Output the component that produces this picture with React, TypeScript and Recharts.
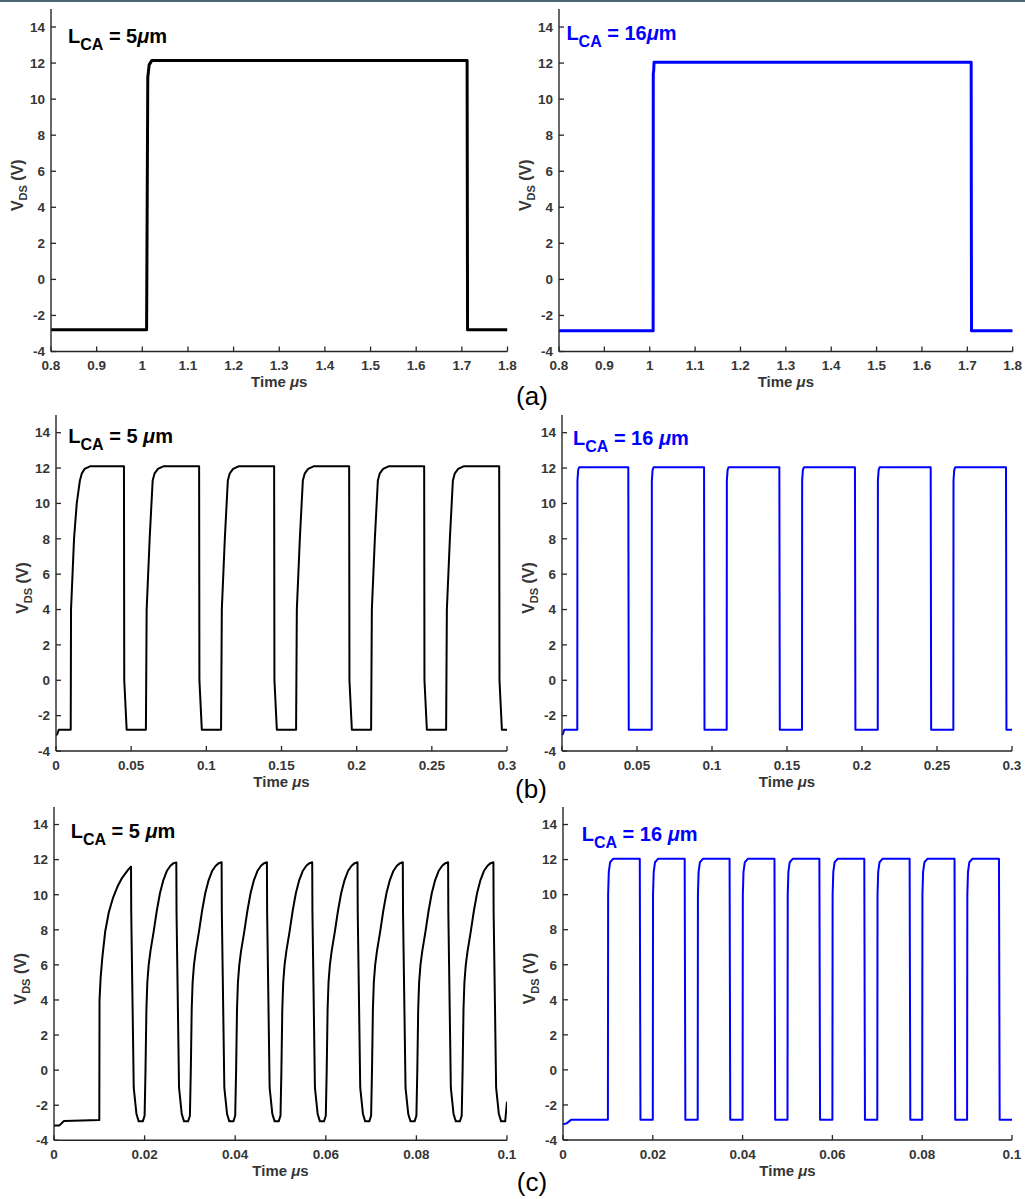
import React from 'react';
import { LineChart, Line, XAxis, YAxis, Label, Customized } from 'recharts';

type Pt = [number, number];

// ---- tick values ----
const Y_TICKS = [-4, -2, 0, 2, 4, 6, 8, 10, 12, 14];
const X_TICKS_A = [0.8, 0.9, 1, 1.1, 1.2, 1.3, 1.4, 1.5, 1.6, 1.7, 1.8];
const X_TICKS_B = [0, 0.05, 0.1, 0.15, 0.2, 0.25, 0.3];
const X_TICKS_C = [0, 0.02, 0.04, 0.06, 0.08, 0.1];

// ---- (a) single pulse, time in µs, V_DS in volts ----
const vdsA5: Pt[] = [
  [0.8, -2.8], [1.0094, -2.8], [1.012, 11.2], [1.015, 11.9], [1.021, 12.15],
  [1.7115, 12.15], [1.7125, -2.8], [1.8, -2.8],
];
const vdsA16: Pt[] = [
  [0.8, -2.85], [1.0075, -2.85], [1.0078, 11.4], [1.0088, 11.6], [1.0095, 12.05],
  [1.7085, 12.05], [1.7092, -2.85], [1.8, -2.85],
];

// ---- (b) 20 MHz pulse train ----
const vdsB5: Pt[] = [
  [0, -3.1], [0.0008, -3.05], [0.0018, -2.8], [0.0098, -2.8],
  [0.01, 4.0], [0.011, 6.0], [0.012, 8.0], [0.0138, 10.0], [0.0159, 11.3], [0.0172, 11.7], [0.019, 11.95], [0.0226, 12.1],
  [0.0452, 12.1], [0.0454, 0], [0.047, -2.8], [0.0598, -2.8],
  [0.0603, 4.0], [0.0623, 8.0], [0.0643, 11.3], [0.0656, 11.7], [0.0678, 11.95], [0.0714, 12.1],
  [0.0952, 12.1], [0.0954, 0], [0.097, -2.8], [0.1098, -2.8],
  [0.1103, 4.0], [0.1123, 8.0], [0.1143, 11.3], [0.1156, 11.7], [0.1178, 11.95], [0.1214, 12.1],
  [0.1451, 12.1], [0.1453, 0], [0.1469, -2.8], [0.1597, -2.8],
  [0.1602, 4.0], [0.1622, 8.0], [0.1642, 11.3], [0.1655, 11.7], [0.1677, 11.95], [0.1713, 12.1],
  [0.195, 12.1], [0.1952, 0], [0.1968, -2.8], [0.2096, -2.8],
  [0.2101, 4.0], [0.2121, 8.0], [0.2141, 11.3], [0.2154, 11.7], [0.2176, 11.95], [0.2212, 12.1],
  [0.2449, 12.1], [0.2451, 0], [0.2467, -2.8], [0.2595, -2.8],
  [0.26, 4.0], [0.262, 8.0], [0.264, 11.3], [0.2653, 11.7], [0.2675, 11.95], [0.2711, 12.1],
  [0.2948, 12.1], [0.295, 0], [0.2966, -2.8], [0.3, -2.8],
];
const vdsB16: Pt[] = [
  [0, -3.1], [0.0008, -3.0], [0.0015, -2.8], [0.0102, -2.8],
  [0.0103, 11.3], [0.0108, 11.9], [0.0115, 12.05], [0.0442, 12.05], [0.0445, -2.8], [0.0598, -2.8],
  [0.0599, 11.3], [0.0604, 11.9], [0.0611, 12.05], [0.0947, 12.05], [0.095, -2.8], [0.1098, -2.8],
  [0.1099, 11.3], [0.1104, 11.9], [0.1111, 12.05], [0.1449, 12.05], [0.1452, -2.8], [0.16, -2.8],
  [0.1601, 11.3], [0.1606, 11.9], [0.1613, 12.05], [0.1953, 12.05], [0.1956, -2.8], [0.2105, -2.8],
  [0.2106, 11.3], [0.2111, 11.9], [0.2118, 12.05], [0.2458, 12.05], [0.2461, -2.8], [0.2609, -2.8],
  [0.261, 11.3], [0.2615, 11.9], [0.2622, 12.05], [0.296, 12.05], [0.2963, -2.8], [0.3, -2.8],
];

// ---- (c) 100 MHz pulse train ----
const vdsC5: Pt[] = [
  [0, -3.15], [0.0012, -3.15], [0.0022, -2.9], [0.01, -2.85],
  [0.01005, 4.0], [0.0103, 5.3], [0.0107, 6.5], [0.0113, 7.9], [0.0121, 9.0], [0.013, 9.8], [0.014, 10.45], [0.015, 10.95], [0.0163, 11.4], [0.017, 11.6],
  [0.01705, 9.0], [0.0176, -1.0], [0.0182, -2.5], [0.0187, -2.92], [0.0196, -2.92],
  [0.02, -2.6], [0.0202, 0], [0.0204, 3.5], [0.0206, 5.0], [0.0209, 6.0], [0.0213, 6.8], [0.022, 7.9], [0.0227, 9.1], [0.0234, 10.1], [0.0241, 10.8], [0.0249, 11.35], [0.0257, 11.65], [0.0264, 11.8], [0.027, 11.84],
  [0.02705, 9.0], [0.0276, -1.0], [0.0282, -2.5], [0.0287, -2.92], [0.0296, -2.92],
  [0.03, -2.6], [0.0302, 0], [0.0304, 3.5], [0.0306, 5.0], [0.0309, 6.0], [0.0313, 6.8], [0.032, 7.9], [0.0327, 9.1], [0.0334, 10.1], [0.0341, 10.8], [0.0349, 11.35], [0.0357, 11.65], [0.0364, 11.8], [0.037, 11.85],
  [0.03705, 9.0], [0.0376, -1.0], [0.0382, -2.5], [0.0387, -2.92], [0.0396, -2.92],
  [0.04, -2.6], [0.0402, 0], [0.0404, 3.5], [0.0406, 5.0], [0.0409, 6.0], [0.0413, 6.8], [0.042, 7.9], [0.0427, 9.1], [0.0434, 10.1], [0.0441, 10.8], [0.0449, 11.35], [0.0457, 11.65], [0.0464, 11.8], [0.047, 11.85],
  [0.04705, 9.0], [0.0476, -1.0], [0.0482, -2.5], [0.0487, -2.92], [0.0496, -2.92],
  [0.05, -2.6], [0.0502, 0], [0.0504, 3.5], [0.0506, 5.0], [0.0509, 6.0], [0.0513, 6.8], [0.052, 7.9], [0.0527, 9.1], [0.0534, 10.1], [0.0541, 10.8], [0.0549, 11.35], [0.0557, 11.65], [0.0564, 11.8], [0.057, 11.85],
  [0.05705, 9.0], [0.0576, -1.0], [0.0582, -2.5], [0.0587, -2.92], [0.0596, -2.92],
  [0.06, -2.6], [0.0602, 0], [0.0604, 3.5], [0.0606, 5.0], [0.0609, 6.0], [0.0613, 6.8], [0.062, 7.9], [0.0627, 9.1], [0.0634, 10.1], [0.0641, 10.8], [0.0649, 11.35], [0.0657, 11.65], [0.0664, 11.8], [0.067, 11.85],
  [0.06705, 9.0], [0.0676, -1.0], [0.0682, -2.5], [0.0687, -2.92], [0.0696, -2.92],
  [0.07, -2.6], [0.0702, 0], [0.0704, 3.5], [0.0706, 5.0], [0.0709, 6.0], [0.0713, 6.8], [0.072, 7.9], [0.0727, 9.1], [0.0734, 10.1], [0.0741, 10.8], [0.0749, 11.35], [0.0757, 11.65], [0.0764, 11.8], [0.077, 11.85],
  [0.07705, 9.0], [0.0776, -1.0], [0.0782, -2.5], [0.0787, -2.92], [0.0796, -2.92],
  [0.08, -2.6], [0.0802, 0], [0.0804, 3.5], [0.0806, 5.0], [0.0809, 6.0], [0.0813, 6.8], [0.082, 7.9], [0.0827, 9.1], [0.0834, 10.1], [0.0841, 10.8], [0.0849, 11.35], [0.0857, 11.65], [0.0864, 11.8], [0.087, 11.85],
  [0.08705, 9.0], [0.0876, -1.0], [0.0882, -2.5], [0.0887, -2.92], [0.0896, -2.92],
  [0.09, -2.6], [0.0902, 0], [0.0904, 3.5], [0.0906, 5.0], [0.0909, 6.0], [0.0913, 6.8], [0.092, 7.9], [0.0927, 9.1], [0.0934, 10.1], [0.0941, 10.8], [0.0949, 11.35], [0.0957, 11.65], [0.0964, 11.8], [0.097, 11.85],
  [0.09705, 9.0], [0.0976, -1.0], [0.0982, -2.5], [0.0987, -2.92], [0.0996, -2.92], [0.1, -1.8],
];
const vdsC16: Pt[] = [
  [0, -3.1], [0.0008, -3.05], [0.0018, -2.85], [0.01, -2.85],
  [0.01005, 10.0], [0.0102, 11.3], [0.0105, 11.85], [0.0112, 12.05], [0.0171, 12.05], [0.01725, -2.85], [0.02, -2.85],
  [0.02005, 10.0], [0.0202, 11.3], [0.0205, 11.85], [0.0212, 12.05], [0.0271, 12.05], [0.02725, -2.85], [0.03, -2.85],
  [0.03005, 10.0], [0.0302, 11.3], [0.0305, 11.85], [0.0312, 12.05], [0.0371, 12.05], [0.03725, -2.85], [0.04, -2.85],
  [0.04005, 10.0], [0.0402, 11.3], [0.0405, 11.85], [0.0412, 12.05], [0.0471, 12.05], [0.04725, -2.85], [0.05, -2.85],
  [0.05005, 10.0], [0.0502, 11.3], [0.0505, 11.85], [0.0512, 12.05], [0.0571, 12.05], [0.05725, -2.85], [0.06, -2.85],
  [0.06005, 10.0], [0.0602, 11.3], [0.0605, 11.85], [0.0612, 12.05], [0.0671, 12.05], [0.06725, -2.85], [0.07, -2.85],
  [0.07005, 10.0], [0.0702, 11.3], [0.0705, 11.85], [0.0712, 12.05], [0.0772, 12.05], [0.07735, -2.85], [0.08, -2.85],
  [0.08005, 10.0], [0.0802, 11.3], [0.0805, 11.85], [0.0812, 12.05], [0.0872, 12.05], [0.08735, -2.85], [0.09, -2.85],
  [0.09005, 10.0], [0.0902, 11.3], [0.0905, 11.85], [0.0912, 12.05], [0.0971, 12.05], [0.09725, -2.85], [0.1, -2.85],
];

const AXIS = '#262626';
const TXT = '#363636';
const FONT = '"Liberation Sans", Arial, Helvetica, sans-serif';
const BLACK = '#000000';
const BLUE = '#0000ff';

const fmt = (v: number) => String(Number(v.toFixed(3)));

const BottomTick = (p: any) => (
  <g>
    <line x1={p.x} y1={p.y} x2={p.x} y2={p.y - 5} stroke={AXIS} strokeWidth={1.3} />
    <text x={p.x} y={p.y + 18.5} textAnchor="middle" fontFamily={FONT} fontWeight="bold" fontSize={13.5} fill={TXT}>
      {fmt(p.payload.value)}
    </text>
  </g>
);
const TopTick = (p: any) => (
  <line x1={p.x} y1={p.y} x2={p.x} y2={p.y + 5} stroke={AXIS} strokeWidth={1.3} />
);
const LeftTick = (p: any) => (
  <g>
    <line x1={p.x} y1={p.y} x2={p.x + 5} y2={p.y} stroke={AXIS} strokeWidth={1.3} />
    <text x={p.x - 6} y={p.y + 4.8} textAnchor="end" fontFamily={FONT} fontWeight="bold" fontSize={13.5} fill={TXT}>
      {fmt(p.payload.value)}
    </text>
  </g>
);
const RightTick = (p: any) => (
  <line x1={p.x} y1={p.y} x2={p.x - 5} y2={p.y} stroke={AXIS} strokeWidth={1.3} />
);

const ML = 50;
const MT = 10;
const MR = 14;
const MB = 45;

type PanelProps = {
  left: number;
  top: number;
  w: number;
  h: number;
  xDomain: [number, number];
  xTicks: number[];
  data: Pt[];
  color: string;
  lineWidth: number;
  num: string;
  spaced: boolean;
  tagDx: number;
  tagDy: number;
  yTitleX: number;
};

function Panel(props: PanelProps) {
  const { left, top, w, h, xDomain, xTicks, data, color, lineWidth, num, spaced, tagDx, tagDy, yTitleX } = props;
  const rows = data.map(([t, v]) => ({ t, v }));
  const axisLine = { stroke: AXIS, strokeWidth: 1.4 };
  return (
    <div style={{ position: 'absolute', left: left - ML, top: top - MT }}>
      <LineChart
        width={w + ML + MR}
        height={h + MT + MB}
        data={rows}
        margin={{ top: MT, right: MR, left: 0, bottom: 0 }}
      >
        <XAxis
          xAxisId="b"
          dataKey="t"
          type="number"
          domain={xDomain}
          ticks={xTicks}
          interval={0}
          allowDataOverflow
          height={MB}
          tickSize={0}
          tickMargin={0}
          tickLine={false}
          axisLine={axisLine}
          tick={(p: any) => <BottomTick {...p} />}
        >
          <Label
            content={(lp: any) => {
              const vb = lp.viewBox;
              return (
                <text x={vb.x + vb.width / 2} y={vb.y + 35.5} textAnchor="middle" fontFamily={FONT} fontWeight="bold" fontSize={15} fill={TXT}>
                  Time <tspan fontStyle="italic">μ</tspan>s
                </text>
              );
            }}
          />
        </XAxis>
        <XAxis
          xAxisId="t"
          orientation="top"
          dataKey="t"
          type="number"
          domain={xDomain}
          ticks={xTicks}
          interval={0}
          allowDataOverflow
          height={0}
          tickSize={0}
          tickMargin={0}
          tickLine={false}
          axisLine={axisLine}
          tick={(p: any) => <TopTick {...p} />}
        />
        <YAxis
          yAxisId="l"
          type="number"
          domain={[-4, 15]}
          ticks={Y_TICKS}
          interval={0}
          allowDataOverflow
          width={ML}
          tickSize={0}
          tickMargin={0}
          tickLine={false}
          axisLine={axisLine}
          tick={(p: any) => <LeftTick {...p} />}
        >
          <Label
            content={(lp: any) => {
              const vb = lp.viewBox;
              const cx = vb.x + yTitleX;
              const cy = vb.y + vb.height / 2 + 5;
              return (
                <text transform={`translate(${cx},${cy}) rotate(-90)`} textAnchor="middle" fontFamily={FONT} fontWeight="bold" fontSize={16} fill={TXT}>
                  V<tspan fontSize={11} dy={4}>DS</tspan>
                  <tspan dy={-4}> (V)</tspan>
                </text>
              );
            }}
          />
        </YAxis>
        <YAxis
          yAxisId="r"
          orientation="right"
          type="number"
          domain={[-4, 15]}
          ticks={Y_TICKS}
          interval={0}
          allowDataOverflow
          width={0}
          tickSize={0}
          tickMargin={0}
          tickLine={false}
          axisLine={axisLine}
          tick={(p: any) => <RightTick {...p} />}
        />
        <Line
          xAxisId="b"
          yAxisId="l"
          dataKey="v"
          type="linear"
          stroke={color}
          strokeWidth={lineWidth}
          dot={false}
          activeDot={false}
          isAnimationActive={false}
          strokeLinejoin="round"
        />
        <Customized
          component={() => (
            <text x={ML + tagDx} y={MT + tagDy} fontFamily={FONT} fontWeight="bold" fontSize={20} fill={color}>
              L<tspan fontSize={16} dy={7}>CA</tspan>
              <tspan dy={-7}>{` = ${num}${spaced ? ' ' : ''}`}</tspan>
              <tspan fontStyle="italic">μ</tspan>m
            </text>
          )}
        />
      </LineChart>
    </div>
  );
}

const Caption = ({ x, y, text }: { x: number; y: number; text: string }) => (
  <div
    style={{
      position: 'absolute',
      left: x - 30,
      top: y,
      width: 60,
      textAlign: 'center',
      fontFamily: FONT,
      fontSize: 26,
      lineHeight: '26px',
      color: '#000',
    }}
  >
    {text}
  </div>
);

export default function App() {
  return (
    <div style={{ position: 'absolute', left: 0, top: 0, width: 1025, height: 1199, background: '#fff', overflow: 'hidden' }}>
      <div style={{ position: 'absolute', left: 0, top: 0, width: 1025, height: 2, background: '#4d6774' }} />
      <Panel left={51} top={8.5} w={456.5} h={342.5} xDomain={[0.8, 1.8]} xTicks={X_TICKS_A} data={vdsA5} color={BLACK} lineWidth={3} num="5" spaced={false} tagDx={17} tagDy={33.5} yTitleX={22} />
      <Panel left={559.3} top={8.5} w={453.7} h={342.5} xDomain={[0.8, 1.8]} xTicks={X_TICKS_A} data={vdsA16} color={BLUE} lineWidth={3} num="16" spaced={false} tagDx={7.4} tagDy={31} yTitleX={22} />
      <Caption x={532} y={383} text="(a)" />

      <Panel left={56} top={415} w={451} h={336} xDomain={[0, 0.3]} xTicks={X_TICKS_B} data={vdsB5} color={BLACK} lineWidth={2} num="5" spaced={true} tagDx={12.3} tagDy={28.3} yTitleX={22} />
      <Panel left={562} top={415} w={450} h={336} xDomain={[0, 0.3]} xTicks={X_TICKS_B} data={vdsB16} color={BLUE} lineWidth={2} num="16" spaced={true} tagDx={11} tagDy={30} yTitleX={22} />
      <Caption x={531} y={776} text="(b)" />

      <Panel left={54} top={806.7} w={453} h={333.3} xDomain={[0, 0.1]} xTicks={X_TICKS_C} data={vdsC5} color={BLACK} lineWidth={2} num="5" spaced={true} tagDx={16.7} tagDy={31} yTitleX={22} />
      <Panel left={563} top={807} w={449} h={333} xDomain={[0, 0.1]} xTicks={X_TICKS_C} data={vdsC16} color={BLUE} lineWidth={2} num="16" spaced={true} tagDx={18.7} tagDy={33.7} yTitleX={22} />
      <Caption x={532} y={1169} text="(c)" />
    </div>
  );
}
